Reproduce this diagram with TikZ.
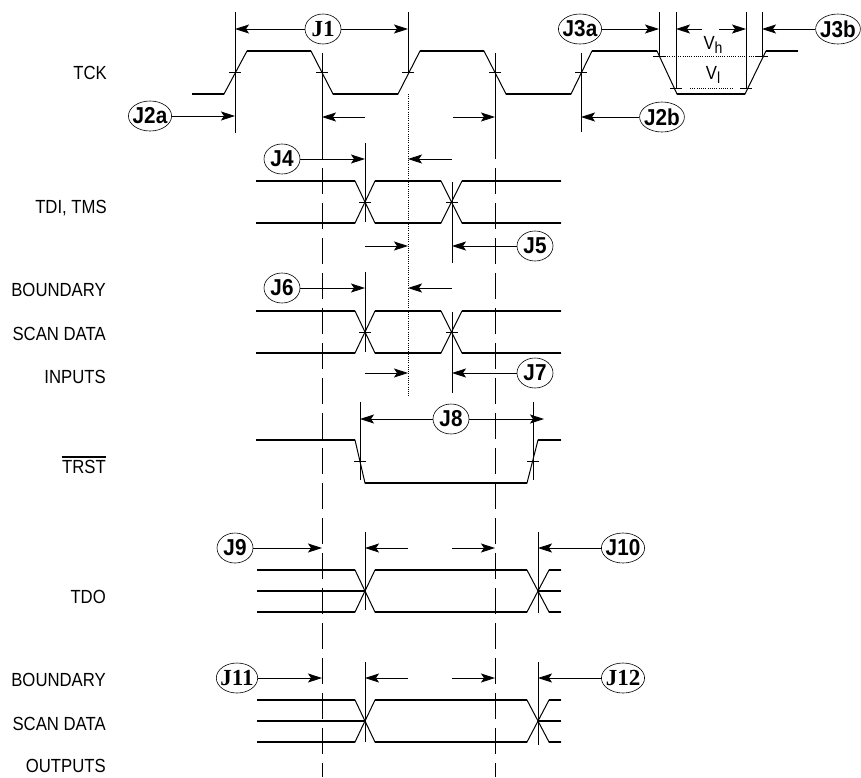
\documentclass[tikz,border=0pt]{standalone}
\usepackage{fontspec}
\setmainfont{Liberation Sans}
\newfontfamily\sigfont{Liberation Sans}[FakeStretch=0.88]
\newfontfamily\tagfont{Liberation Sans}[FakeStretch=0.9]
\newfontfamily\tagserif{Liberation Serif}
\usetikzlibrary{arrows.meta}
\usetikzlibrary{shapes.geometric}
\newcommand{\barred}[1]{\vbox{\hrule height 1.6pt \kern 2pt \hbox{#1}}}

\begin{document}
\begin{tikzpicture}[x=1pt,y=-1pt,
 sig/.style={anchor=east,inner xsep=0pt,font=\sigfont\fontsize{19}{19}\selectfont},
 tag/.style={draw,ellipse,line width=0.6pt,inner xsep=-2pt,inner ysep=0pt,minimum width=36pt,minimum height=30pt,font=\tagfont\bfseries\fontsize{23}{23}\selectfont},
 stag/.style={tag,font=\tagserif\bfseries\fontsize{23}{23}\selectfont},
 dim/.style={line width=0.8pt,-{Stealth[length=14pt,width=9pt,inset=3pt]}},
 lvl/.style={line width=1.8pt},
 edg/.style={line width=1pt},
 vl/.style={line width=0.8pt},
 dsh/.style={line width=0.8pt,dash pattern=on 26pt off 9pt},
 dtd/.style={line width=0.6pt,dash pattern=on 1pt off 1.2pt}]
\useasboundingbox (0,0) rectangle (861,777);
% signal names
\node[sig](tck) at (107,73){TCK};
\node[sig](tdi) at (107,208){TDI, TMS};
\node[sig](bsi1) at (106,290){BOUNDARY};
\node[sig](bsi2) at (106,334){SCAN DATA};
\node[sig](bsi3) at (106,377){INPUTS};
\node[sig](trst) at (106,465){\barred{TRST}};
\node[sig](tdo) at (106,597){TDO};
\node[sig](bso1) at (106,680){BOUNDARY};
\node[sig](bso2) at (106,724){SCAN DATA};
\node[sig](bso3) at (106,766){OUTPUTS};
% TCK
\draw[edg] (192,94) -- (224,94) -- (247,51) -- (311,51) -- (333,94) -- (398,94) -- (420,51) -- (484,51) -- (506,94) -- (571,94) -- (592,51) -- (657,51) -- (677,94) -- (745,94) -- (766,51) -- (798,51);
\draw[lvl] (192,94) -- (224,94) (247,51) -- (311,51) (333,94) -- (398,94) (420,51) -- (484,51) (506,94) -- (571,94) (592,51) -- (657,51) (677,94) -- (745,94) (766,51) -- (798,51);
\draw[vl] (235,12) -- (235,133);
\draw[vl] (322,53) -- (322,133);
\draw[vl] (408,12) -- (408,72);
\draw[vl] (495,53) -- (495,133);
\draw[vl] (581,53) -- (581,132);
\draw[vl] (659,12) -- (659,56);
\draw[vl] (676,12) -- (676,88);
\draw[vl] (746,12) -- (746,88);
\draw[vl] (762,12) -- (762,56);
\draw[vl] (229,72) -- (241,72);
\draw[vl] (316,72) -- (328,72);
\draw[vl] (402,72) -- (414,72);
\draw[vl] (489,72) -- (501,72);
\draw[vl] (575,72) -- (587,72);
\draw[vl] (653,56) -- (665,56);
\draw[vl] (670,88) -- (682,88);
\draw[vl] (740,88) -- (752,88);
\draw[vl] (756,56) -- (768,56);
\draw[dtd] (665,56) -- (756,56);
\draw[dtd] (690,88) -- (733,88);
\node[font=\sigfont\fontsize{19}{19}\selectfont](vh) at (713,45){V\raisebox{-4pt}{\fontsize{16}{16}\selectfont h}};
\node[font=\sigfont\fontsize{19}{19}\selectfont](vlo) at (713,75){V\raisebox{-4pt}{\fontsize{16}{16}\selectfont l}};
% timing references
\draw[dsh] (322,133) -- (322,777);
\draw[dsh] (495,133) -- (495,777);
\draw[dtd] (408,94) -- (408,397);
% J1, J2, J3
\node[stag](j1) at (323,29){J1};
\coordinate(j1l) at (235,29);
\coordinate(j1r) at (408,29);
\draw[dim] (j1) -- (j1l);
\draw[dim] (j1) -- (j1r);
\node[tag](j2a) at (150,116){J2a};
\coordinate(j2ae) at (235,116);
\draw[dim] (j2a) -- (j2ae);
\coordinate(f1s) at (365,117);
\coordinate(f1e) at (322,117);
\draw[dim] (f1s) -- (f1e);
\coordinate(f2s) at (453,117);
\coordinate(f2e) at (495,117);
\draw[dim] (f2s) -- (f2e);
\node[tag](j2b) at (662,117){J2b};
\coordinate(j2be) at (581,117);
\draw[dim] (j2b) -- (j2be);
\node[tag](j3a) at (580,29){J3a};
\coordinate(j3ae) at (659,29);
\draw[dim] (j3a) -- (j3ae);
\coordinate(f3s) at (702,29);
\coordinate(f3e) at (676,29);
\draw[dim] (f3s) -- (f3e);
\coordinate(f4s) at (719,29);
\coordinate(f4e) at (746,29);
\draw[dim] (f4s) -- (f4e);
\node[tag](j3b) at (838,29){J3b};
\coordinate(j3be) at (762,29);
\draw[dim] (j3b) -- (j3be);
% TDI, TMS
\draw[edg] (256,181) -- (355,181) -- (375,223) -- (441,223) -- (462,181) -- (561,181);
\draw[edg] (256,223) -- (355,223) -- (375,181) -- (441,181) -- (462,223) -- (561,223);
\draw[lvl] (256,181) -- (355,181) (375,181) -- (441,181) (462,181) -- (561,181);
\draw[lvl] (256,223) -- (355,223) (375,223) -- (441,223) (462,223) -- (561,223);
\draw[vl] (365,143) -- (365,222);
\draw[vl] (452,182) -- (452,263);
\draw[vl] (359,202) -- (371,202);
\draw[vl] (446,202) -- (458,202);
\node[tag](j4) at (282,159){J4};
\coordinate(j4e) at (365,159);
\draw[dim] (j4) -- (j4e);
\coordinate(f5s) at (452,159);
\coordinate(f5e) at (408,159);
\draw[dim] (f5s) -- (f5e);
\node[tag](j5) at (535,246){J5};
\coordinate(j5e) at (452,246);
\draw[dim] (j5) -- (j5e);
\coordinate(f6s) at (365,246);
\coordinate(f6e) at (408,246);
\draw[dim] (f6s) -- (f6e);
% boundary scan inputs
\draw[edg] (256,311) -- (355,311) -- (375,353) -- (441,353) -- (462,311) -- (561,311);
\draw[edg] (256,353) -- (355,353) -- (375,311) -- (441,311) -- (462,353) -- (561,353);
\draw[lvl] (256,311) -- (355,311) (375,311) -- (441,311) (462,311) -- (561,311);
\draw[lvl] (256,353) -- (355,353) (375,353) -- (441,353) (462,353) -- (561,353);
\draw[vl] (365,272) -- (365,352);
\draw[vl] (452,312) -- (452,393);
\draw[vl] (359,332) -- (371,332);
\draw[vl] (446,332) -- (458,332);
\node[tag](j6) at (282,288){J6};
\coordinate(j6e) at (365,288);
\draw[dim] (j6) -- (j6e);
\coordinate(f7s) at (452,288);
\coordinate(f7e) at (408,288);
\draw[dim] (f7s) -- (f7e);
\node[tag](j7) at (535,373){J7};
\coordinate(j7e) at (452,373);
\draw[dim] (j7) -- (j7e);
\coordinate(f8s) at (365,373);
\coordinate(f8e) at (408,373);
\draw[dim] (f8s) -- (f8e);
% TRST
\draw[edg] (256,440) -- (355,440) -- (365,483) -- (527,483) -- (538,440) -- (561,440);
\draw[lvl] (256,440) -- (355,440) (365,483) -- (527,483) (538,440) -- (561,440);
\draw[vl] (360,402) -- (360,480);
\draw[vl] (533,402) -- (533,480);
\draw[vl] (354,461) -- (366,461);
\draw[vl] (527,461) -- (539,461);
\node[tag](j8) at (451,419){J8};
\coordinate(j8l) at (360,419);
\coordinate(j8r) at (544,419);
\draw[dim] (j8) -- (j8l);
\draw[dim] (j8) -- (j8r);
% TDO
\draw[edg] (257,570) -- (355,570) -- (375,612) -- (527,612) -- (549,570) -- (561,570);
\draw[edg] (257,612) -- (355,612) -- (375,570) -- (527,570) -- (549,612) -- (561,612);
\draw[lvl] (257,570) -- (355,570) (375,570) -- (527,570) (549,570) -- (561,570);
\draw[lvl] (257,612) -- (355,612) (375,612) -- (527,612) (549,612) -- (561,612);
\draw[lvl] (257,591) -- (365,591) (538,591) -- (561,591);
\draw[vl] (365,532) -- (365,610);
\draw[vl] (538,532) -- (538,613);
\node[tag](j9) at (235,548){J9};
\coordinate(j9e) at (322,548);
\draw[dim] (j9) -- (j9e);
\coordinate(f9s) at (408,548);
\coordinate(f9e) at (365,548);
\draw[dim] (f9s) -- (f9e);
\coordinate(f10s) at (452,548);
\coordinate(f10e) at (495,548);
\draw[dim] (f10s) -- (f10e);
\node[tag](j10) at (623,548){J10};
\coordinate(j10e) at (538,548);
\draw[dim] (j10) -- (j10e);
% boundary scan outputs
\draw[edg] (257,700) -- (355,700) -- (375,742) -- (527,742) -- (549,700) -- (561,700);
\draw[edg] (257,742) -- (355,742) -- (375,700) -- (527,700) -- (549,742) -- (561,742);
\draw[lvl] (257,700) -- (355,700) (375,700) -- (527,700) (549,700) -- (561,700);
\draw[lvl] (257,742) -- (355,742) (375,742) -- (527,742) (549,742) -- (561,742);
\draw[lvl] (257,721) -- (365,721) (538,721) -- (561,721);
\draw[vl] (365,662) -- (365,742);
\draw[vl] (538,662) -- (538,745);
\node[stag](j11) at (237,678){J11};
\coordinate(j11e) at (322,678);
\draw[dim] (j11) -- (j11e);
\coordinate(f11s) at (408,678);
\coordinate(f11e) at (365,678);
\draw[dim] (f11s) -- (f11e);
\coordinate(f12s) at (452,678);
\coordinate(f12e) at (495,678);
\draw[dim] (f12s) -- (f12e);
\node[stag](j12) at (623,678){J12};
\coordinate(j12e) at (538,678);
\draw[dim] (j12) -- (j12e);
\end{tikzpicture}
\end{document}
